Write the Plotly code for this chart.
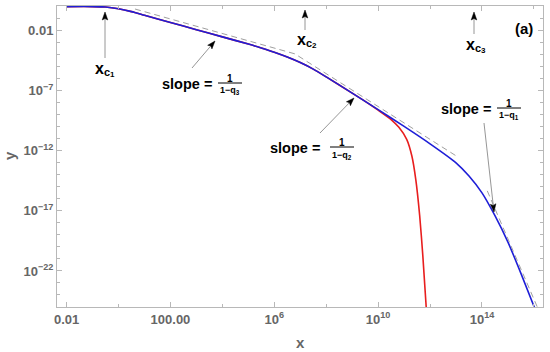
import plotly.graph_objects as go

# curve readings (x, y) taken off the reference plot
x_blue = [1e-2, 0.1, 0.316, 1.0, 3.16, 10, 100, 1e3, 1e4, 1e5, 3.16e5, 1e6,
          3.16e6, 1e7, 3.16e7, 1e8, 1e9, 1e10, 1e11, 1e12, 1e13, 3.16e13,
          1e14, 3.16e14, 1e15, 3.16e15, 1.05e16]
y_blue = [1.0, 1.0, 0.933, 0.661, 0.380, 0.191, 0.0479, 0.0120, 3.02e-3,
          7.6e-4, 3.55e-4, 1.58e-4, 6.3e-5, 2.19e-5, 6.3e-6, 1.41e-6, 6.3e-8,
          2.69e-9, 1.07e-10, 3.8e-12, 1.0e-13, 7.9e-15, 3.16e-16, 3.98e-18,
          2.51e-20, 6.3e-23, 8.9e-26]

x_red = [1e-2, 0.1, 0.316, 1.0, 3.16, 10, 100, 1e3, 1e4, 1e5, 3.16e5, 1e6,
         3.16e6, 1e7, 3.16e7, 1e8, 1e9, 3.16e9, 1e10, 3.16e10, 6.3e10,
         1.26e11, 2.0e11, 2.82e11, 3.98e11, 5.25e11, 7.2e11]
y_red = [1.0, 1.0, 0.933, 0.661, 0.380, 0.191, 0.0479, 0.0120, 3.02e-3,
         7.6e-4, 3.55e-4, 1.58e-4, 6.3e-5, 2.19e-5, 6.3e-6, 1.41e-6, 6.3e-8,
         1.29e-8, 2.4e-9, 4.0e-10, 8.9e-11, 8.9e-12, 3.5e-13, 4.0e-15,
         4.0e-18, 2.0e-21, 6.3e-26]

# asymptotes (dashed), None splits the last piece off
x_asym = [4.3, 6.2e6, 1.07e13, None, 1.6e14, 1.35e16]
y_asym = [0.63, 1.17e-4, 3.5e-13, None, 4.6e-16, 1.0e-25]

x_ticks = [1e-2, 1e2, 1e6, 1e10, 1e14]
x_ticktext = ['0.01', '100.00', '10<sup>6</sup>', '10<sup>10</sup>', '10<sup>14</sup>']
x_minor = [1e0, 1e4, 1e8, 1e12, 1e16]
y_ticks = [1e-2, 1e-7, 1e-12, 1e-17, 1e-22]
y_ticktext = ['0.01', '10<sup>−7</sup>', '10<sup>−12</sup>', '10<sup>−17</sup>', '10<sup>−22</sup>']
y_minor = [10.0 ** -k for k in range(0, 26)]

W, H = 550, 352
L, R, T, B = 57, 7, 6, 45
PW, PH = W - L - R, H - T - B

def paper(px, py):
    return (px - L) / PW, (H - B - py) / PH

fig = go.Figure()
fig.add_trace(go.Scatter(x=x_red, y=y_red, mode='lines', line_shape='spline',
                         line=dict(color='rgb(232,30,30)', width=1.6, smoothing=0.6)))
fig.add_trace(go.Scatter(x=x_blue, y=y_blue, mode='lines', line_shape='spline',
                         line=dict(color='rgb(30,30,215)', width=1.6, smoothing=0.6)))
fig.add_trace(go.Scatter(x=x_asym, y=y_asym, mode='lines',
                         line=dict(color='#a0a0a0', width=1, dash='6px,4px')))

ann = []
shapes = []
FONT = 'Liberation Sans, Arial, sans-serif'

def text(px, py, s, size=14, color='black', angle=0):
    x, y = paper(px, py)
    ann.append(dict(x=x, y=y, xref='paper', yref='paper', text=s, showarrow=False,
                    textangle=angle,
                    font=dict(family=FONT, size=size, color=color, weight='bold'),
                    xanchor='center', yanchor='middle'))

def arrow(tail, head, hl=8, hw=2.8):
    # gray shaft + black filled head, drawn as shapes
    dx, dy = head[0] - tail[0], head[1] - tail[1]
    n = (dx ** 2 + dy ** 2) ** 0.5
    ux, uy = dx / n, dy / n
    bx, by = head[0] - ux * hl, head[1] - uy * hl
    x0, y0 = paper(*tail)
    x1, y1 = paper(bx + ux, by + uy)
    shapes.append(dict(type='line', xref='paper', yref='paper', x0=x0, y0=y0, x1=x1, y1=y1,
                       line=dict(color='#8a8a8a', width=0.9)))
    pts = [head, (bx - uy * hw, by + ux * hw), (bx + ux * 1.5, by + uy * 1.5),
           (bx + uy * hw, by - ux * hw)]
    path = 'M ' + ' L '.join('%.5f %.5f' % paper(*p) for p in pts) + ' Z'
    shapes.append(dict(type='path', xref='paper', yref='paper', path=path,
                       fillcolor='black', line=dict(color='black', width=0.5)))

def xc(px, py, n):
    text(px - 5, py - 2, 'x', 16)
    text(px + 3, py + 2, 'c', 11)
    text(px + 8.5, py + 5, n, 8)

def slope(cx, cy, fx, sub):
    text(cx, cy, 'slope =', 14.5)
    text(fx, cy - 6, '1', 10)
    text(fx, cy + 7, '1−q<sub>%s</sub>' % sub, 9)
    x0, y0 = paper(fx - 12, cy - 1)
    x1, _ = paper(fx + 12, cy - 1)
    shapes.append(dict(type='line', xref='paper', yref='paper', x0=x0, x1=x1, y0=y0, y1=y0,
                       line=dict(color='black', width=1)))

# x_c markers
xc(104, 70, '1')
arrow((105, 58), (105, 12))
xc(306, 41, '2')
arrow((305, 30), (305, 10))
xc(475, 46, '3')
arrow((474, 34), (474, 12))
text(524, 29, '(a)', 15)

slope(187, 84, 230, '3')
arrow((192, 68), (215, 41))
slope(295, 148, 342, '2')
arrow((320, 133), (354, 98))
slope(466, 109, 509, '1')
arrow((484, 123), (494, 212))

# axis titles
text(300, 342, 'x', 15, '#666666')
text(9, 156, 'y', 15, '#666666', angle=-90)

axis_common = dict(type='log', showgrid=False, zeroline=False, showline=True,
                   linecolor='#b8b8b8', linewidth=1, mirror='ticks', ticks='inside',
                   ticklen=5, tickcolor='#b8b8b8', automargin=False,
                   tickfont=dict(family=FONT, size=13, color='#666666', weight='bold'))

fig.update_layout(
    width=W, height=H, margin=dict(l=L, r=R, t=T, b=B, autoexpand=False),
    paper_bgcolor='white', plot_bgcolor='white', showlegend=False,
    annotations=ann, shapes=shapes,
    xaxis=dict(axis_common, range=[-2.37, 16.35], tickmode='array',
               tickvals=x_ticks, ticktext=x_ticktext,
               minor=dict(tickvals=x_minor, ticks='inside', ticklen=3, tickcolor='#b8b8b8')),
    yaxis=dict(axis_common, range=[-25.0, 0.05], tickmode='array',
               tickvals=y_ticks, ticktext=y_ticktext,
               minor=dict(tickvals=y_minor, ticks='inside', ticklen=3, tickcolor='#b8b8b8')),
)

# page body has a default 8px margin; drop it so the figure sits at the window corner
fig.write_html('out.html', config={'displayModeBar': False},
               post_script="document.body.style.margin='0';")
